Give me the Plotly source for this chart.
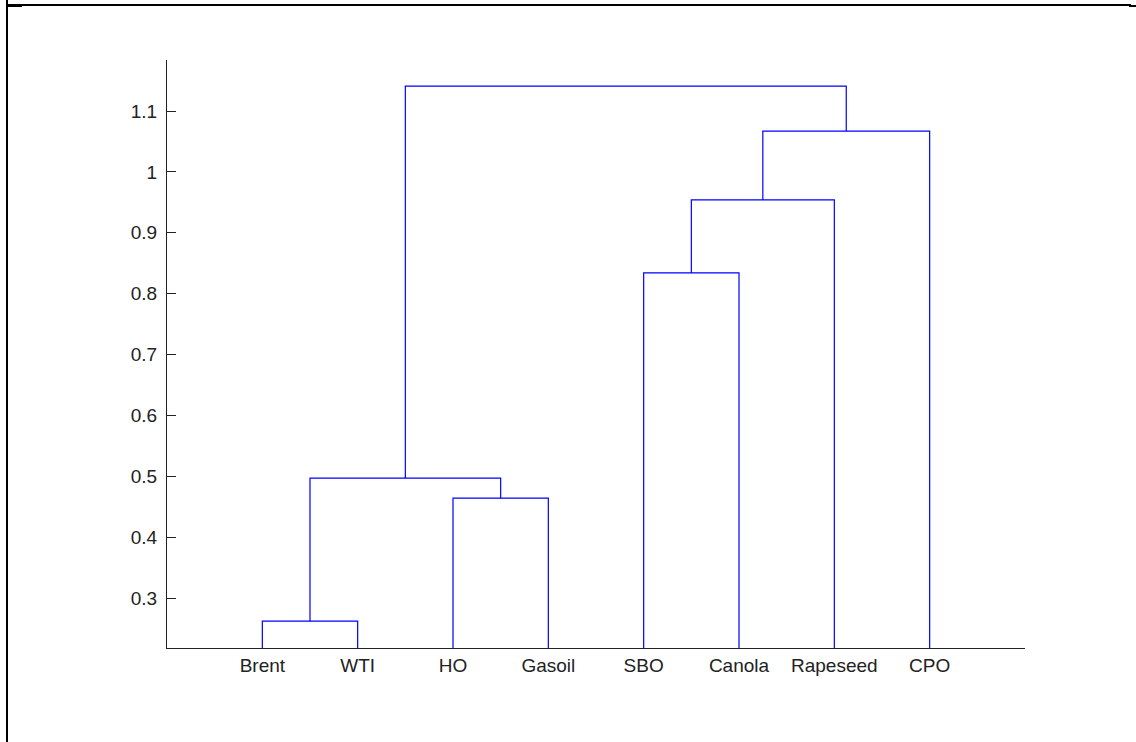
import plotly.graph_objects as go

# ---- data ----
labels = ["Brent", "WTI", "HO", "Gasoil", "SBO", "Canola", "Rapeseed", "CPO"]
# linkage: (left node, right node, height); nodes >= 8 are earlier merges
merge_left = [0, 2, 8, 4, 11, 12, 10]
merge_right = [1, 3, 9, 5, 6, 7, 13]
merge_height = [0.262, 0.464, 0.497, 0.834, 0.954, 1.067, 1.141]
ytick_vals = [0.3, 0.4, 0.5, 0.6, 0.7, 0.8, 0.9, 1.0, 1.1]
ytick_text = ["0.3", "0.4", "0.5", "0.6", "0.7", "0.8", "0.9", "1", "1.1"]

n = len(labels)
pos = {i: i + 1 for i in range(n)}
hgt = {i: 0.0 for i in range(n)}
xs, ys = [], []
for k, (a, b, h) in enumerate(zip(merge_left, merge_right, merge_height)):
    xa, xb = pos[a], pos[b]
    xs += [xa, xa, xb, xb, None]
    ys += [hgt[a], h, h, hgt[b], None]
    pos[n + k] = (xa + xb) / 2
    hgt[n + k] = h

fig = go.Figure()
fig.add_trace(go.Scatter(x=xs, y=ys, mode="lines",
                         line=dict(color="#0000ff", width=1.2),
                         hoverinfo="skip", showlegend=False))

W, H = 1136, 742
L, R, T, B = 167, 1025, 60, 648


def px(x):
    return (x - L) / (R - L)


def py(y):
    return (B - y) / (B - T)


shapes = [
    dict(type="line", xref="paper", yref="paper", x0=px(7), x1=px(1131), y0=py(5), y1=py(5),
         line=dict(color="black", width=2)),
    dict(type="line", xref="paper", yref="paper", x0=px(7), x1=px(7), y0=py(0), y1=py(742),
         line=dict(color="black", width=2)),
    dict(type="line", xref="paper", yref="paper", x0=px(7), x1=px(22), y0=py(6), y1=py(6),
         line=dict(color="black", width=2)),
    dict(type="line", xref="paper", yref="paper", x0=px(1129), x1=px(1136), y0=py(6), y1=py(6),
         line=dict(color="black", width=2)),
]

fig.update_layout(
    width=W, height=H,
    margin=dict(l=L, r=W - R, t=T, b=H - B),
    plot_bgcolor="white", paper_bgcolor="white",
    font=dict(family="Liberation Sans, Arial, sans-serif", size=19, color="#222222"),
    shapes=shapes,
)
fig.update_xaxes(range=[0, 9], tickvals=list(range(1, n + 1)), ticktext=labels,
                 showgrid=False, zeroline=False, showline=True, linecolor="#222222",
                 linewidth=1, ticks="", ticklabelstandoff=0)
fig.update_yaxes(range=[0.2179, 1.1838], tickvals=ytick_vals, ticktext=ytick_text,
                 showgrid=False, zeroline=False, showline=True, linecolor="#222222",
                 linewidth=1, ticks="inside", ticklen=9, tickcolor="#222222",
                 ticklabelstandoff=5)

fig.write_html("out.html", config={"displayModeBar": False},
               post_script="document.body.style.margin='0';document.body.style.overflow='hidden';")
